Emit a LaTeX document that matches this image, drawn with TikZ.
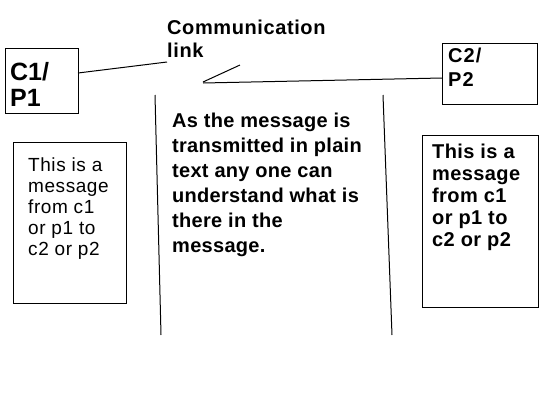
\documentclass[tikz,border=0pt]{standalone}
\usepackage{fontspec}
\setmainfont{Liberation Sans}
\lineskiplimit=-100pt
\tikzset{
  box/.style={draw, line width=1pt, inner sep=0pt, anchor=north west},
  txt/.style={anchor=north west, inner sep=0pt, align=left},
  ln/.style={line width=1pt},
}
\begin{document}
\begin{tikzpicture}[x=1pt,y=-1pt]
\useasboundingbox[fill=white] (0,0) rectangle (550,400);
% boxes
\node[box, minimum width=73pt, minimum height=65pt] (c1) at (5,48) {};
\node[box, minimum width=95pt, minimum height=61pt] (c2) at (442,43) {};
\node[box, minimum width=113pt, minimum height=161pt] (m1) at (13,142) {};
\node[box, minimum width=116pt, minimum height=172pt] (m2) at (422,135) {};
% texts
\node[txt, font={\fontsize{20}{23}\selectfont\bfseries\addfontfeatures{LetterSpace=3}}] (comm) at (167,20) {Communication\\link};
\node[txt, font={\fontsize{25}{26}\selectfont\bfseries}] (c1t) at (10,62) {C1/\\P1};
\node[txt, font={\fontsize{20}{24}\selectfont\bfseries\addfontfeatures{LetterSpace=5}}] (c2t) at (448,48) {C2/\\P2};
\node[txt, font={\fontsize{19}{20.8}\selectfont\addfontfeatures{LetterSpace=3}}] (m1t) at (28,158) {This is a\\message\\from c1\\or p1 to\\c2 or p2};
\node[txt, font={\fontsize{20}{22}\selectfont\bfseries\addfontfeatures{LetterSpace=2}}] (m2t) at (432,144) {This is a\\message\\from c1\\or p1 to\\c2 or p2};
\node[txt, font={\fontsize{20}{25}\selectfont\bfseries\addfontfeatures{LetterSpace=1.5}}] (mid) at (172,113) {As the message is\\transmitted in plain\\text any one can\\understand what is\\there in the\\message.};
% connector end points
\coordinate (p1) at (78,73);
\coordinate (p2) at (167,62);
\coordinate (s1) at (203,82);
\coordinate (s2) at (240,65);
\coordinate (q1) at (203,83);
\coordinate (q2) at (442,78);
\coordinate (v1a) at (155,95);
\coordinate (v1b) at (161,335);
\coordinate (v2a) at (383,95);
\coordinate (v2b) at (392,335);
% connectors
\draw[ln] (p1) -- (p2);
\draw[ln] (s1) -- (s2);
\draw[ln] (q1) -- (q2);
\draw[ln] (v1a) -- (v1b);
\draw[ln] (v2a) -- (v2b);
\end{tikzpicture}
\end{document}
